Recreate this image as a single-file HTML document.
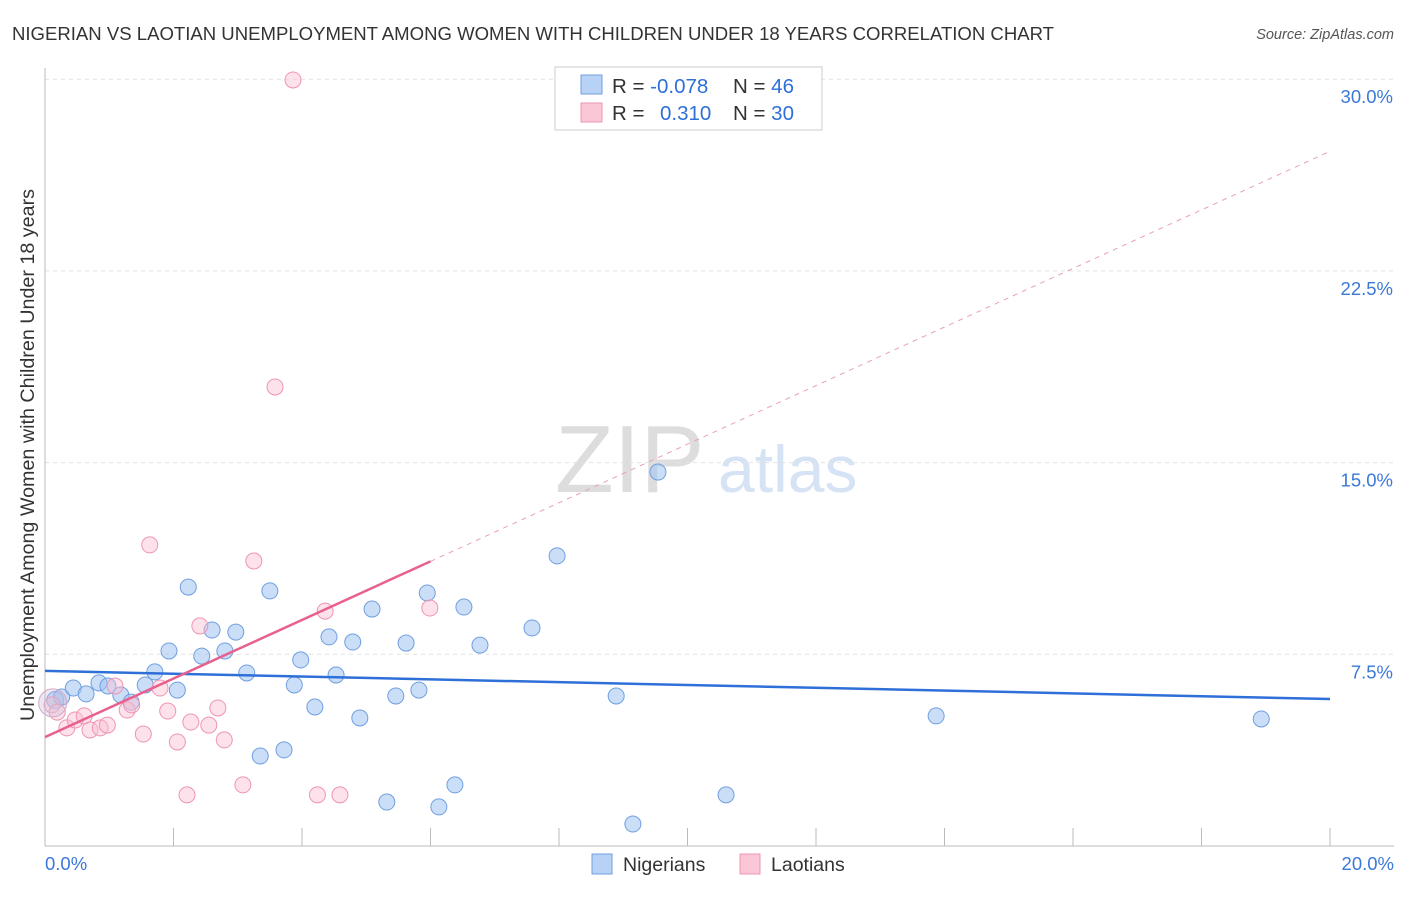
<!DOCTYPE html>
<html><head><meta charset="utf-8"><style>
body{margin:0;background:#fff;font-family:"Liberation Sans",sans-serif}
svg text{font-family:"Liberation Sans",sans-serif}
</style></head><body>
<svg id="c" width="1406" height="892">
<text x="12" y="40" font-size="18.6" fill="#333" textLength="1042" lengthAdjust="spacingAndGlyphs">NIGERIAN VS LAOTIAN UNEMPLOYMENT AMONG WOMEN WITH CHILDREN UNDER 18 YEARS CORRELATION CHART</text>
<text x="1394" y="39" font-size="14.5" fill="#555" text-anchor="end" font-style="italic">Source: ZipAtlas.com</text>
<text x="555" y="492" font-size="96" fill="#ddd" font-family="Liberation Serif">ZIP</text>
<text x="718" y="492" font-size="66" fill="#d5e3f5">atlas</text>
<text transform="translate(34,455) rotate(-90)" font-size="19" fill="#333" text-anchor="middle" textLength="532" lengthAdjust="spacingAndGlyphs">Unemployment Among Women with Children Under 18 years</text>
<g id="grid"></g><g id="marks"></g>
<g>
<rect x="555" y="67" width="267" height="63" fill="#fff" stroke="#ccc"/>
<rect x="581" y="75" width="21" height="19" fill="#b8d2f5" stroke="#6f9fe0"/>
<rect x="581" y="103" width="21" height="19" fill="#fbc6d6" stroke="#ee95b0"/>
<text x="612" y="93" font-size="20.5" fill="#333">R = <tspan fill="#2e6fd8">-0.078</tspan><tspan x="733">N = </tspan><tspan fill="#2e6fd8">46</tspan></text>
<text x="612" y="120" font-size="20.5" fill="#333">R = <tspan x="660" fill="#2e6fd8">0.310</tspan><tspan x="733">N = </tspan><tspan fill="#2e6fd8">30</tspan></text>
</g>
<g>
<rect x="592" y="854" width="20" height="20" fill="#b8d2f5" stroke="#6f9fe0"/>
<text x="623" y="871" font-size="19.5" fill="#333">Nigerians</text>
<rect x="740" y="854" width="20" height="20" fill="#fbc6d6" stroke="#ee95b0"/>
<text x="771" y="871" font-size="19.5" fill="#333">Laotians</text>
</g>
</svg>
<script>
const xTicks=[0,2,4,6,8,10,12,14,16,18,20];
const yTicks=[7.5,15,22.5,30];
const yTickLabels=["7.5%","15.0%","22.5%","30.0%"];
const nigX=[0.16,0.26,0.44,0.64,0.84,0.98,1.18,1.34,1.56,1.71,1.93,2.06,2.23,2.44,2.60,2.80,2.97,3.14,3.35,3.50,3.72,3.88,3.98,4.20,4.42,4.53,4.79,4.90,5.09,5.32,5.46,5.62,5.82,5.95,6.13,6.38,6.52,6.77,7.58,7.97,8.89,9.15,9.54,10.60,13.87,18.93];
const nigY=[5.71,5.83,6.18,5.95,6.38,6.26,5.91,5.63,6.30,6.81,7.63,6.10,10.13,7.43,8.45,7.63,8.37,6.77,3.52,9.98,3.76,6.30,7.28,5.44,8.18,6.69,7.98,5.01,9.27,1.72,5.87,7.94,6.10,9.90,1.53,2.39,9.35,7.86,8.53,11.35,5.87,0.86,14.63,2.00,5.09,4.97];
const laoX=[0.11,0.19,0.34,0.47,0.61,0.70,0.86,0.97,1.09,1.28,1.35,1.53,1.63,1.79,1.91,2.06,2.21,2.27,2.41,2.55,2.69,2.79,3.08,3.25,3.58,3.86,4.24,4.36,4.59,5.99];
const laoY=[5.52,5.24,4.62,4.93,5.09,4.54,4.62,4.73,6.26,5.32,5.52,4.38,11.78,6.18,5.28,4.07,2.00,4.85,8.61,4.73,5.40,4.15,2.39,11.15,17.96,29.97,2.00,9.19,2.00,9.31];
const nigLine=[6.85,5.75];
const laoLine=[4.26,1.146];
const X=v=>45+v/20*1285, Y=v=>846-v/7.5*191.7;
const NS="http://www.w3.org/2000/svg";
function mk(t,a,p){const e=document.createElementNS(NS,t);for(const k in a)e.setAttribute(k,a[k]);p.appendChild(e);return e;}
const g=document.getElementById('grid'),m=document.getElementById('marks');
yTicks.forEach((t,i)=>{const l=mk('line',{x1:45,x2:1394,y1:Y(t),y2:Y(t),stroke:'#e2e2e2','stroke-dasharray':'4,4'},g);


const tx=mk('text',{x:1393,y:Y(t)+24,'font-size':18.5,fill:'#3b78d8','text-anchor':'end'},g);tx.textContent=yTickLabels[i];

});
mk('line',{x1:45,x2:45,y1:68,y2:846,stroke:'#bbb'},g);
mk('line',{x1:45,x2:1394,y1:846,y2:846,stroke:'#bbb'},g);
xTicks.forEach(t=>{const l=mk('line',{x1:X(t),x2:X(t),y1:828,y2:846,stroke:'#bbb'},g);

});
const x0=mk('text',{x:45,y:870,'font-size':18.5,fill:'#3b78d8'},g);x0.textContent='0.0%';


const x1=mk('text',{x:1394,y:870,'font-size':18.5,fill:'#3b78d8','text-anchor':'end'},g);x1.textContent='20.0%';


nigX.forEach((v,i)=>{const c=mk('circle',{cx:X(v),cy:Y(nigY[i]),r:i==0?8.5:8,fill:'rgba(160,195,240,0.55)',stroke:'#6f9fe0','stroke-width':1},m);

});
laoX.forEach((v,i)=>{const c=mk('circle',{cx:X(v),cy:Y(laoY[i]),r:8,fill:'rgba(250,190,210,0.45)',stroke:'#ee95b0','stroke-width':1},m);

});
const big=mk('circle',{cx:X(0.12),cy:Y(5.6),r:14,fill:'rgba(200,190,220,0.35)',stroke:'#d9a8c8'},m);


const bl=mk('line',{x1:X(0),y1:Y(nigLine[0]),x2:X(20),y2:Y(nigLine[1]),stroke:'#2e6fd8','stroke-width':2.5},m);


const pl=mk('line',{x1:X(0),y1:Y(laoLine[0]),x2:X(6),y2:Y(laoLine[0]+6*laoLine[1]),stroke:'#e8608e','stroke-width':2.5},m);


const pd=mk('line',{x1:X(6),y1:Y(laoLine[0]+6*laoLine[1]),x2:X(20),y2:Y(laoLine[0]+20*laoLine[1]),stroke:'#e8a0b8','stroke-width':1,'stroke-dasharray':'5,5'},m);


</script>
</body></html>
